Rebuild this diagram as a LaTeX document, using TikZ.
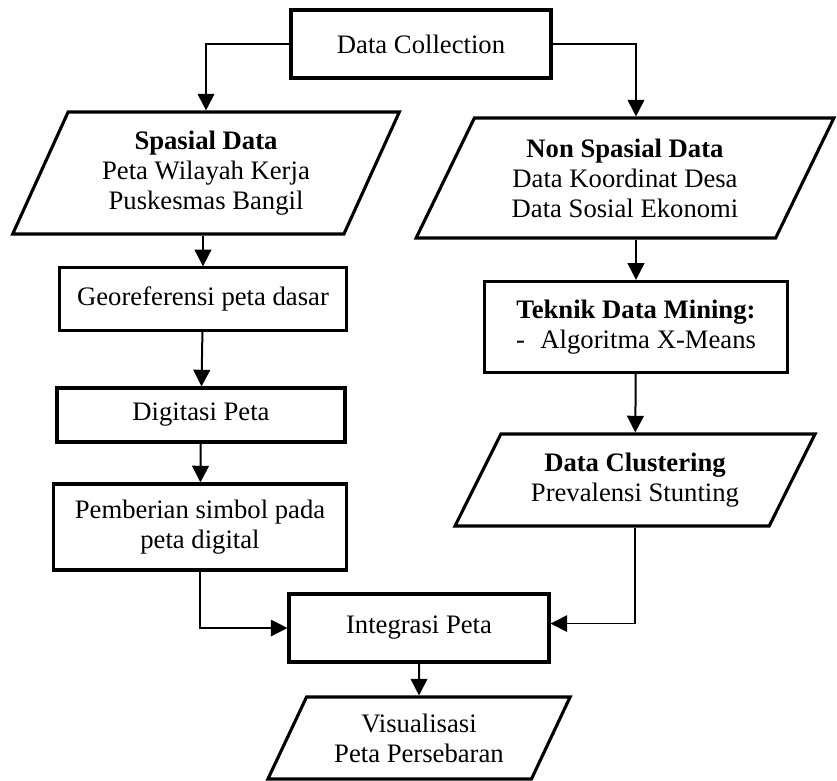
\documentclass[tikz,border=0pt]{standalone}
\usepackage{fontspec}
\setmainfont{Liberation Serif}
\usetikzlibrary{positioning}
\usetikzlibrary{shapes.geometric, arrows.meta}

\begin{document}
\begin{tikzpicture}[x=0.45pt, y=-0.45pt,
  proc/.style = {draw, rectangle, line width=1.4pt, align=center, inner sep=2pt},
  io/.style = {draw, trapezium, trapezium left angle=#1, trapezium right angle=180-#1,
    trapezium stretches body, line width=1.4pt, align=center, inner sep=1pt},
  io/.default = 55,
  flow/.style = {->, line width=0.9pt},
  merge/.style = {->, line width=0.6pt},
  >={Triangle[width=7.5pt,length=7.5pt]},
  font=\fontsize{12}{13.5}\selectfont]
\useasboundingbox (0,0) rectangle (837,780);
% top
\node[proc, minimum width=117pt, minimum height=30.6pt] (collect) at (421,44) {Data Collection};
% left column
\node[io=58, minimum width=174pt, minimum height=54.9pt] (spasial) at (206,173)
  {\textbf{Spasial Data}\\Peta Wilayah Kerja\\Puskesmas Bangil};
\node[proc, minimum width=129pt, minimum height=28pt] (georef) at (203,299) {Georeferensi peta dasar};
\node[proc, minimum width=129.6pt, minimum height=24.3pt] (digit) at (201,415) {Digitasi Peta};
\node[proc, minimum width=132pt, minimum height=38.7pt] (simbol) at (200,527)
  {Pemberian simbol pada\\peta digital};
% right column
\node[io=55, minimum width=188pt, minimum height=54pt] (nonspasial) at (625,178)
  {\textbf{Non Spasial Data}\\Data Koordinat Desa\\Data Sosial Ekonomi};
\node[proc, minimum width=136pt, minimum height=41pt] (mining) at (636,327)
  {\textbf{Teknik Data Mining:}\\-\hspace{7pt}Algoritma X-Means};
\node[io=52, minimum width=162pt, minimum height=41.4pt] (cluster) at (635,480)
  {\textbf{Data Clustering}\\Prevalensi Stunting};
% bottom
\node[proc, minimum width=117pt, minimum height=30.6pt] (integrasi) at (419,628) {Integrasi Peta};
\node[io=54, minimum width=136pt, minimum height=36.9pt] (visual) at (419,738)
  {Visualisasi\\Peta Persebaran};

\draw[flow] (collect.west) -| (spasial.north);
\draw[flow] (collect.east) -| (nonspasial.north -| mining.north);
\draw[flow] (spasial.south -| georef.north) -- (georef.north);
\draw[flow] (georef) -- (digit);
\draw[flow] (digit) -- (simbol);
\draw[flow] (nonspasial.south -| mining.north) -- (mining.north);
\draw[flow] (mining) -- (cluster);
\draw[merge] (simbol.south) |- (integrasi.west);
\draw[merge] (cluster.south) |- ([yshift=2pt]integrasi.east);
\draw[flow] (integrasi) -- (visual);
\end{tikzpicture}
\end{document}
